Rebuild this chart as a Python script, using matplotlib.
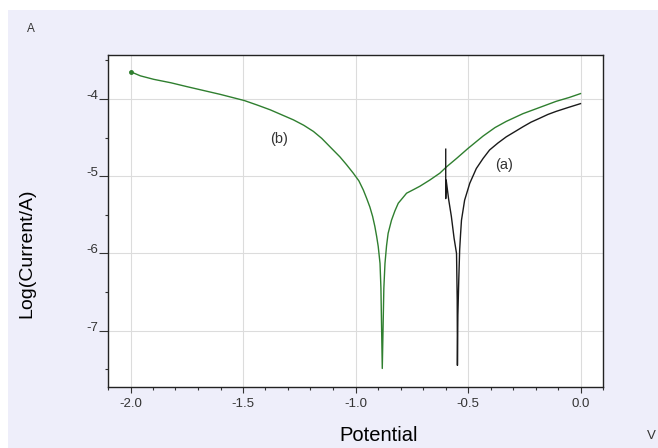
#!/usr/bin/env python3
# -*- coding: utf-8 -*-

import matplotlib
matplotlib.use("Agg")
import matplotlib.pyplot as plt
from matplotlib.patches import Rectangle
from matplotlib.ticker import MultipleLocator

# ================= CONFIG =================
OUTPUT_FILE = "out.png"
FIGSIZE = (6.58, 4.48)
DPI = 100
PANEL_COLOR = "#eeeefa"
GREEN = "#2f7f2f"
BLACK = "#1a1a1a"
# ==========================================

# Curve (a) - black (starts with a small transient at -0.6 V)
pot_a = [-0.599, -0.599, -0.597, -0.586, -0.574, -0.562, -0.551, -0.548, -0.547,
         -0.545, -0.541, -0.537, -0.533, -0.529, -0.515, -0.492, -0.463, -0.433,
         -0.404, -0.367, -0.330, -0.290, -0.256, -0.220, -0.182, -0.145, -0.108,
         -0.055, 0.0]
log_a = [-4.65, -5.29, -5.05, -5.30, -5.52, -5.80, -6.00, -6.60, -7.45,
         -6.80, -6.34, -5.95, -5.75, -5.57, -5.31, -5.09, -4.90, -4.77,
         -4.66, -4.57, -4.49, -4.42, -4.36, -4.30, -4.25, -4.20, -4.16,
         -4.11, -4.06]

# Curve (b) - green
pot_b = [-2.0, -1.956, -1.897, -1.82, -1.749, -1.675, -1.601, -1.494, -1.435,
         -1.379, -1.276, -1.230, -1.187, -1.150, -1.113, -1.069, -1.040, -1.010,
         -0.985, -0.965, -0.950, -0.936, -0.924, -0.914, -0.906, -0.899, -0.891,
         -0.887, -0.881,
         -0.874, -0.869, -0.862, -0.855, -0.840, -0.825, -0.810, -0.790, -0.773,
         -0.740, -0.714, -0.670, -0.625, -0.596, -0.551, -0.500, -0.433, -0.380,
         -0.330, -0.256, -0.182, -0.108, -0.050, 0.0]
log_b = [-3.646, -3.70, -3.745, -3.79, -3.84, -3.89, -3.94, -4.02, -4.08,
         -4.14, -4.27, -4.34, -4.42, -4.51, -4.62, -4.75, -4.85, -4.96,
         -5.06, -5.18, -5.29, -5.40, -5.52, -5.65, -5.78, -5.91, -6.13,
         -6.45, -7.49,
         -6.45, -6.13, -5.90, -5.74, -5.57, -5.45, -5.35, -5.28, -5.22,
         -5.17, -5.13, -5.05, -4.96, -4.88, -4.77, -4.64, -4.48, -4.37,
         -4.29, -4.19, -4.11, -4.03, -3.98, -3.93]

X_TICKS = [-2.0, -1.5, -1.0, -0.5, 0.0]
Y_TICKS = [-7, -6, -5, -4]

plt.rcParams["font.family"] = ["Liberation Sans", "DejaVu Sans"]

fig = plt.figure(figsize=FIGSIZE, dpi=DPI, facecolor="white")

# Lavender panel with a thin white border on top/left
fig.patches.append(Rectangle((8 / 658, 0), 1 - 8 / 658, 1 - 10 / 448,
                             transform=fig.transFigure, facecolor=PANEL_COLOR,
                             edgecolor="none", zorder=-10))

ax = fig.add_axes([108 / 658, 1 - 387 / 448, (603 - 108) / 658, (387 - 55) / 448])
ax.set_facecolor("white")

# =============== PLOT ===============
ax.plot(pot_b, log_b, color=GREEN, linewidth=1.0)
ax.plot(pot_b[0], log_b[0], marker="o", markersize=2.5, color=GREEN)
ax.plot(pot_a, log_a, color=BLACK, linewidth=1.0)

ax.text(-1.339, -4.52, "(b)", fontsize=10.5, color="#333333", ha="center", va="center")
ax.text(-0.338, -4.855, "(a)", fontsize=10.5, color="#333333", ha="center", va="center")

ax.set_xlim(-2.1, 0.1)
ax.set_ylim(-7.73, -3.43)

ax.set_xticks(X_TICKS)
ax.set_xticklabels([f"{t:.1f}" for t in X_TICKS])
ax.xaxis.set_minor_locator(MultipleLocator(0.1))
ax.set_yticks(Y_TICKS)
ax.set_yticklabels([f"{t}" for t in Y_TICKS])
ax.yaxis.set_minor_locator(MultipleLocator(0.5))

ax.tick_params(which="major", direction="out", width=0.8, colors="#333333",
               labelsize=9.5)
ax.tick_params(axis="x", which="major", length=4.3, pad=3.5)
ax.tick_params(axis="y", which="major", length=6.5, pad=0.7)
ax.tick_params(which="minor", direction="out", length=2.5, width=0.8, colors="#333333")
for lbl in ax.get_yticklabels():
    lbl.set_va("baseline")

ax.grid(True, which="major", color="#dcdcdc", linewidth=0.8)
ax.set_axisbelow(True)
for sp in ax.spines.values():
    sp.set_color("#222222")
    sp.set_linewidth(1.0)

ax.set_xlabel("Potential", fontsize=14.5)
ax.xaxis.set_label_coords(0.547, -0.118)
ax.set_ylabel("Log(Current/A)", fontsize=14, va="center")
ax.yaxis.set_label_coords(-0.163, 0.404)

fig.text(30.5 / 658, 1 - 29 / 448, "A", fontsize=8.5, ha="center", va="center", color="#333333")
fig.text(651 / 658, 1 - 436 / 448, "V", fontsize=9.5, ha="center", va="center", color="#333333")

plt.savefig(OUTPUT_FILE, dpi=DPI, facecolor=fig.get_facecolor())
plt.close()
